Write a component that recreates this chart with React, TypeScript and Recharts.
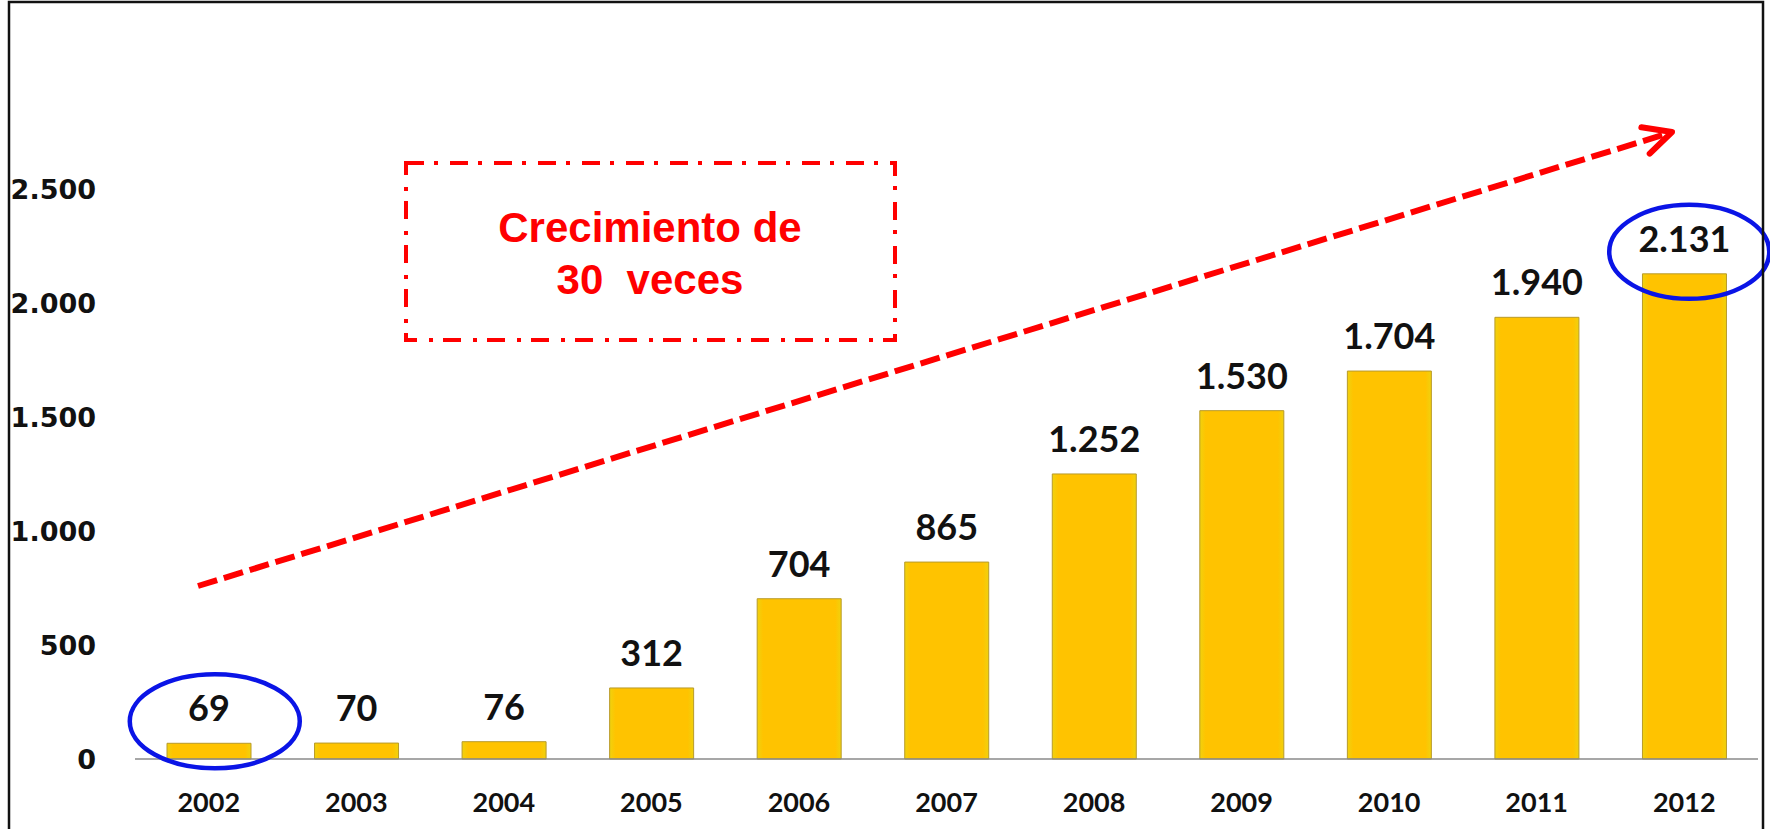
import React from 'react';
import { Bar, BarChart, LabelList, ReferenceDot, XAxis, YAxis } from 'recharts';

const years = ['2002', '2003', '2004', '2005', '2006', '2007', '2008', '2009', '2010', '2011', '2012'];
const values = [69, 70, 76, 312, 704, 865, 1252, 1530, 1704, 1940, 2131];
const yTicks = [0, 500, 1000, 1500, 2000, 2500];

const data = years.map((year, i) => ({ year, value: values[i] }));

const fmt = (v: number) => String(v).replace(/\B(?=(\d{3})+(?!\d))/g, '.');

const W = 1770;
const H = 829;

// blue ring drawn around a value label, anchored to the bar's top
const ring = (dx: number, rx: number) => (props: any) => (
  <ellipse
    cx={props.cx + dx}
    cy={props.cy - 22}
    rx={rx}
    ry={47}
    fill="none"
    stroke="#0a14e6"
    strokeWidth={4.5}
  />
);

const ValueLabel = (props: any) => {
  const { x, y, width, value } = props;
  return (
    <text
      x={x + width / 2}
      y={y - 22}
      textAnchor="middle"
      fontFamily="Lato, sans-serif"
      fontWeight={700}
      fontSize={36}
      fill="#111"
    >
      {fmt(value)}
    </text>
  );
};

const Arrow = () => {
  const x1 = 198, y1 = 586, x2 = 1672, y2 = 132;
  const ang = Math.atan2(y1 - y2, x1 - x2);
  const len = 31;
  const a1 = ang + 0.45, a2 = ang - 0.47;
  return (
    <g>
      <line x1={x1} y1={y1} x2={x2 - 6} y2={y2 + 2} stroke="#ff0000" strokeWidth={6} strokeDasharray="20 7" />
      <polyline
        points={`${x2 + len * Math.cos(a1)},${y2 + len * Math.sin(a1)} ${x2},${y2} ${x2 + len * Math.cos(a2)},${y2 + len * Math.sin(a2)}`}
        fill="none"
        stroke="#ff0000"
        strokeWidth={6}
        strokeLinecap="round"
        strokeLinejoin="round"
      />
    </g>
  );
};

export default function App() {
  return (
    <div style={{ position: 'relative', width: W, height: H, background: '#fff', overflow: 'hidden' }}>
      <style>{`body{margin:0}`}</style>
      <BarChart width={W} height={H} data={data} margin={{ top: 76, right: 12, bottom: 40, left: 0 }}>
        <defs>
          <linearGradient id="gold" x1="0" y1="0" x2="1" y2="0">
            <stop offset="0%" stopColor="#f0d20e" />
            <stop offset="7%" stopColor="#ffc300" />
            <stop offset="93%" stopColor="#ffc300" />
            <stop offset="100%" stopColor="#f0d20e" />
          </linearGradient>
        </defs>
        <XAxis
          dataKey="year"
          height={30}
          axisLine={{ stroke: '#8a8a8a', strokeWidth: 1.5 }}
          tickLine={false}
          tickSize={0}
          tickMargin={34}
          tick={{ fontFamily: 'Lato, sans-serif', fontWeight: 700, fontSize: 27, fill: '#111' }}
          interval={0}
        />
        <YAxis
          domain={[0, 3000]}
          ticks={yTicks}
          width={135}
          axisLine={false}
          tickLine={false}
          tickSize={0}
          tickMargin={39}
          tickFormatter={fmt}
          tick={{ fontFamily: 'DejaVu Sans, sans-serif', fontWeight: 700, fontSize: 27, fill: '#111' }}
        />
        <Bar dataKey="value" barSize={84} fill="url(#gold)" stroke="#b89a2a" strokeWidth={1} isAnimationActive={false}>
          <LabelList dataKey="value" content={<ValueLabel />} />
        </Bar>
        <ReferenceDot x="2002" y={values[0]} r={1} shape={ring(6, 85)} ifOverflow="visible" />
        <ReferenceDot x="2012" y={values[10]} r={1} shape={ring(5, 80)} ifOverflow="visible" />
      </BarChart>
      <svg width={W} height={H} style={{ position: 'absolute', left: 0, top: 0, pointerEvents: 'none' }}>
        <rect x={9} y={2} width={1754} height={900} fill="none" stroke="#111" strokeWidth={2.5} />
        <rect x={406} y={163} width={489} height={177} fill="none" stroke="#ff0000" strokeWidth={4} strokeDasharray="18 10 4 12" />
        <text
          textAnchor="middle"
          fontFamily="Liberation Sans, Arial, sans-serif"
          fontWeight={700}
          fontSize={42}
          fill="#ff0000"
          style={{ whiteSpace: 'pre' }}
        >
          <tspan x={650} y={242}>Crecimiento de</tspan>
          <tspan x={650} y={294}>{'30  veces'}</tspan>
        </text>
        <Arrow />
      </svg>
    </div>
  );
}
